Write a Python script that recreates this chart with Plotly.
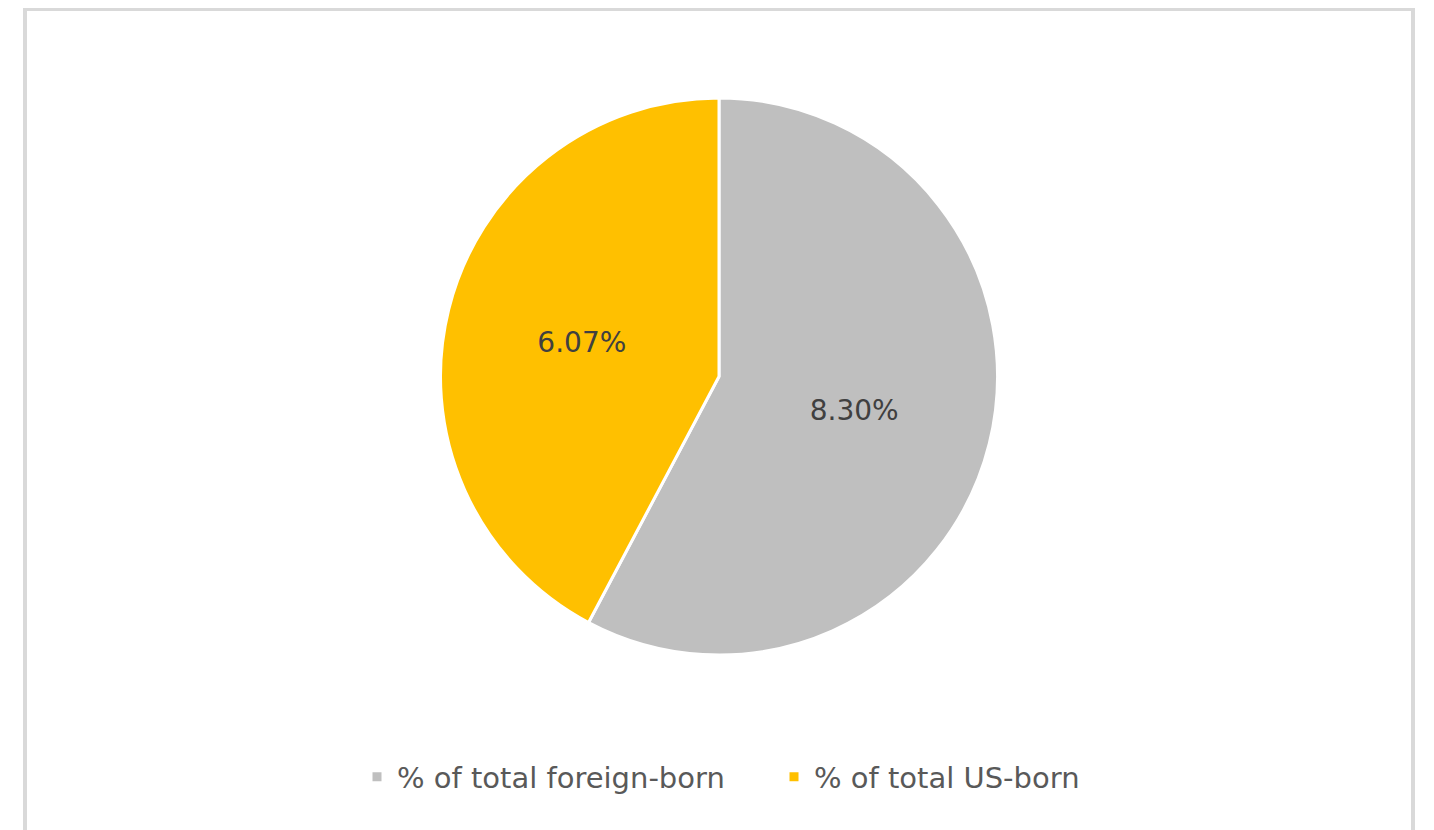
import plotly.graph_objects as go

labels = ["% of total foreign-born", "% of total US-born"]
values = [8.30, 6.07]
text_labels = ["8.30%", "6.07%"]
colors = ["#BFBFBF", "#FFC000"]

W, H = 1434, 830
OFF = 8  # page body margin
cx, cy, r = 719 - OFF, 376.5 - OFF, 278.5

FONT = "DejaVu Sans, Verdana, sans-serif"

fig = go.Figure(go.Pie(
    labels=labels,
    values=values,
    text=text_labels,
    textinfo="text",
    textposition="inside",
    insidetextorientation="horizontal",
    sort=False,
    direction="clockwise",
    rotation=0,
    marker=dict(colors=colors, line=dict(color="white", width=3)),
    textfont=dict(family=FONT, size=28, color="#404040"),
    domain=dict(x=[(cx - r) / W, (cx + r) / W], y=[1 - (cy + r) / H, 1 - (cy - r) / H]),
    hoverinfo="label+value",
))

fig.update_layout(
    width=W, height=H,
    margin=dict(l=0, r=0, t=0, b=0),
    paper_bgcolor="white",
    plot_bgcolor="white",
    showlegend=True,
    legend=dict(
        orientation="h",
        x=(357 - OFF) / W, xanchor="left",
        y=1 - (777 - OFF) / H, yanchor="middle",
        font=dict(family=FONT, size=29, color="#595959"),
        itemwidth=30,
        entrywidth=372,
        entrywidthmode="pixels",
        tracegroupgap=0,
    ),
    shapes=[dict(
        type="rect", xref="paper", yref="paper",
        x0=(25 - OFF) / W, x1=(1413 - OFF) / W, y0=-0.05, y1=1 - 1 / H,
        line=dict(color="#D9D9D9", width=4),
        fillcolor="rgba(0,0,0,0)",
        layer="below",
    )],
)

fig.write_html("out.html")
